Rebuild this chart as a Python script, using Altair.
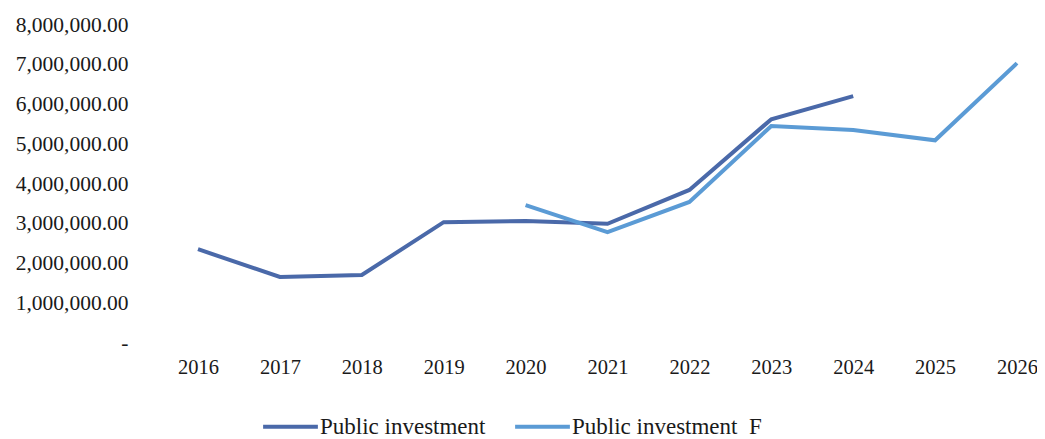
import altair as alt
import pandas as pd

years = ["2016", "2017", "2018", "2019", "2020", "2021", "2022", "2023", "2024", "2025", "2026"]
public_investment = [2360000, 1660000, 1710000, 3040000, 3070000, 3000000, 3850000, 5630000, 6210000, None, None]
public_investment_f = [None, None, None, None, 3470000, 2790000, 3550000, 5460000, 5360000, 5100000, 7040000]
series_names = ["Public investment", "Public investment\u00a0\u00a0F"]
y_ticks = [0, 1000000, 2000000, 3000000, 4000000, 5000000, 6000000, 7000000, 8000000]

rows = []
for yr, v in zip(years, public_investment):
    if v is not None:
        rows.append({"year": yr, "value": v, "series": series_names[0]})
for yr, v in zip(years, public_investment_f):
    if v is not None:
        rows.append({"year": yr, "value": v, "series": series_names[1]})
df = pd.DataFrame(rows)

FONT = "Liberation Serif"

chart = alt.Chart(df).mark_line(strokeWidth=4).encode(
    x=alt.X("year:O", sort=years,
            scale=alt.Scale(type="point", domain=years, range=[50, 869], padding=0),
            axis=alt.Axis(title=None, labelAngle=0, ticks=False, domain=False, grid=False,
                          labelFont=FONT, labelFontSize=20.5, labelColor="#1a1a1a", labelPadding=14)),
    y=alt.Y("value:Q",
            scale=alt.Scale(domain=[0, 8000000], nice=False, zero=True),
            axis=alt.Axis(title=None, values=y_ticks, ticks=False, domain=False, grid=False,
                          labelExpr="datum.value == 0 ? '-\u00a0\u00a0' : format(datum.value, ',.2f')",
                          labelFont=FONT, labelFontSize=21.5, labelColor="#1a1a1a", labelPadding=20)),
    color=alt.Color("series:N", sort=series_names,
                    scale=alt.Scale(domain=series_names, range=["#4a69a9", "#5b9bd5"]),
                    legend=alt.Legend(title=None, orient="none", direction="horizontal",
                                      legendX=113, legendY=372,
                                      symbolType="stroke", symbolSize=3000, symbolStrokeWidth=4,
                                      labelFont=FONT, labelFontSize=23, labelColor="#1a1a1a",
                                      labelLimit=400, labelOffset=0, columnPadding=21)),
).properties(
    width=881, height=318,
    autosize=alt.AutoSizeParams(type="none"),
    padding={"left": 140, "top": 17, "right": 8, "bottom": 96},
).configure_view(stroke=None)

chart.save("out.html", embed_options={"renderer": "svg", "actions": False})
